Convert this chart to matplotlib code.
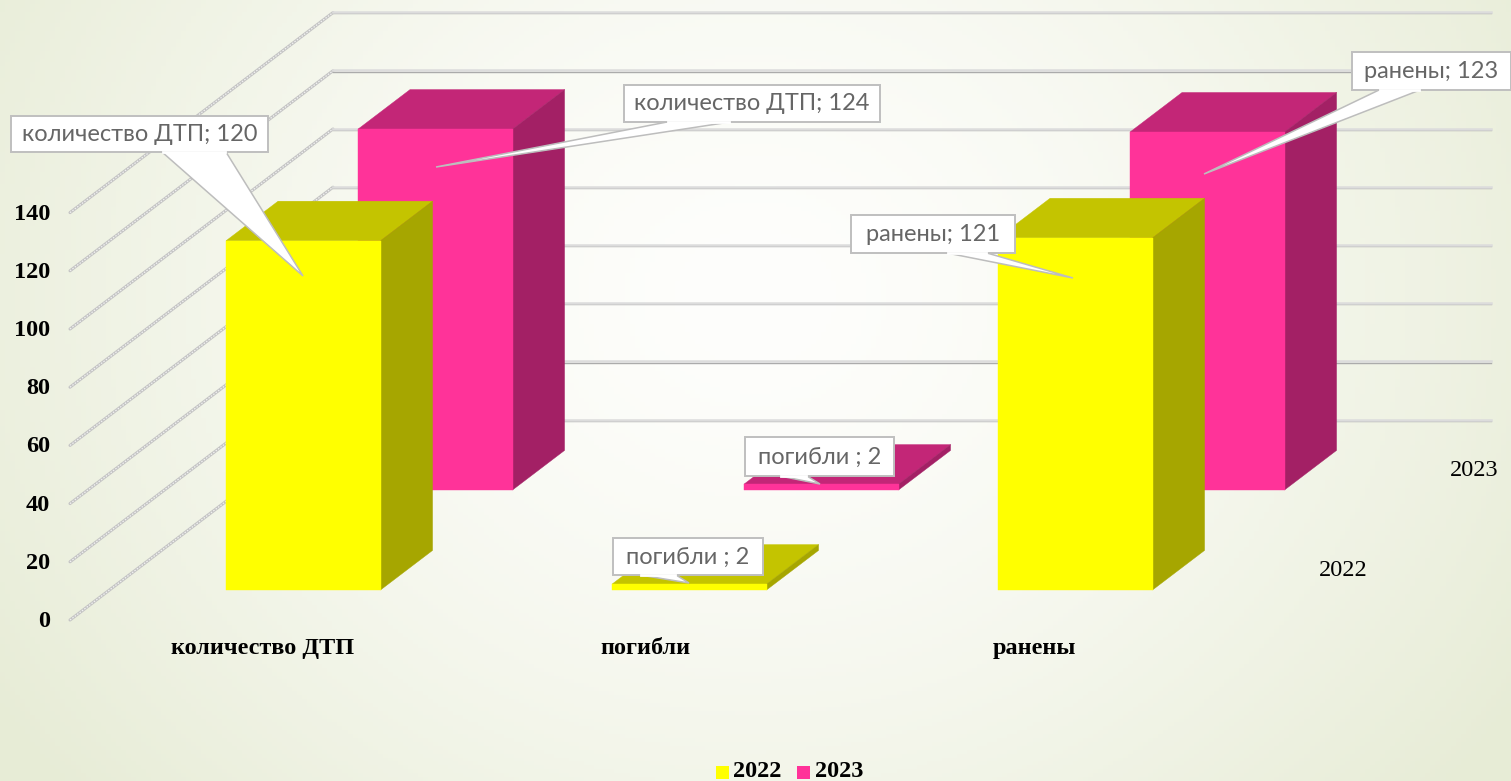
import matplotlib
matplotlib.use("Agg")
import matplotlib.pyplot as plt
from matplotlib.patches import Polygon, Rectangle
import numpy as np

categories = ["количество ДТП", "погибли", "ранены"]
series_names = ["2022", "2023"]
values_2022 = [120, 2, 121]
values_2023 = [124, 2, 123]
ticks = [0, 20, 40, 60, 80, 100, 120, 140]
callouts_2022 = ["количество ДТП; 120", "погибли ; 2", "ранены; 121"]
callouts_2023 = ["количество ДТП; 124", "погибли ; 2", "ранены; 123"]

W, H = 1511, 781
# 3d box of the chart in pixels
X0, Y0 = 70, 620
CAT_W = 386
BAR_W = 154.5
BAR_SHIFT = 0.8
PX_PER_UNIT = 2.91
DEPTH_X, DEPTH_Y = 263, -200
ROW_START = [0.15, 0.65]
ROW_DEPTH = 0.198

FACE = {"2022": ("#FFFF00", "#C4C400", "#A6A600"),
        "2023": ("#FF3399", "#C32677", "#A32065")}


def project(x, value, depth):
    return (X0 + x + DEPTH_X * depth, Y0 - value * PX_PER_UNIT + DEPTH_Y * depth)


def draw_bar(ax, cat, value, row, colors):
    left = cat * CAT_W + (CAT_W - BAR_W) / 2 + BAR_SHIFT + row * 0.5
    right = left + BAR_W
    d0 = ROW_START[row]
    d1 = d0 + ROW_DEPTH
    front, top, side = colors
    z = 3 - row
    ax.add_patch(Polygon([project(left, value, d0), project(right, value, d0),
                          project(right, value, d1), project(left, value, d1)],
                         fc=top, ec=top, lw=0.3, zorder=z))
    ax.add_patch(Polygon([project(right, 0, d0), project(right, 0, d1),
                          project(right, value, d1), project(right, value, d0)],
                         fc=side, ec=side, lw=0.3, zorder=z))
    ax.add_patch(Polygon([project(left, 0, d0), project(right, 0, d0),
                          project(right, value, d0), project(left, value, d0)],
                         fc=front, ec=front, lw=0.3, zorder=z))


def callout(ax, text, box, tail):
    # box is left, top, right, bottom, tail is base1, base2, tip x, tip y
    l, t, r, b = box
    b1, b2, tx, ty = tail
    ax.add_patch(Polygon([(b1, b), (tx, ty), (b2, b)], fc="white", ec="#BDBDBD", lw=1.1, zorder=6))
    ax.add_patch(Rectangle((l, t), r - l, b - t, fc="white", ec="#BFBFBF", lw=1.4, zorder=7))
    ax.plot([b1 + 1, b2 - 1], [b, b], color="white", lw=2, zorder=8)
    ax.text((l + r) / 2, (t + b) / 2 + 0.5, text, fontsize=17, family="Lato",
            color="#666666", ha="center", va="center", zorder=9)


fig = plt.figure(figsize=(W / 100, H / 100), dpi=100)
ax = fig.add_axes([0, 0, 1, 1])
ax.set_xlim(0, W)
ax.set_ylim(H, 0)
ax.axis("off")

# slide background, white in the middle going to pale green at the edges
yy, xx = np.mgrid[0:1:200j, 0:1:300j]
dist = np.clip(np.sqrt(((xx - 0.5) / 0.6) ** 2 + ((yy - 0.38) / 1.0) ** 2), 0, 1)
c_in = np.array([254, 254, 252]) / 255
c_out = np.array([231, 236, 214]) / 255
bg = c_in + (c_out - c_in) * dist[..., None] ** 1.5
ax.imshow(bg, extent=[0, W, H, 0], aspect="auto", zorder=0)

for t in ticks:
    x1, y1 = project(0, t, 0)
    x2, y2 = project(0, t, 1)
    x3, y3 = project(3 * CAT_W, t, 1)
    ax.plot([x1, x2], [y1, y2], color="#C4C4C4", lw=2.2, zorder=1, solid_capstyle="round")
    ax.plot([x1, x2], [y1, y2], color="#F2F2F2", lw=0.9, ls=(0, (1.2, 1.2)), zorder=1.1)
    ax.plot([x2, x3], [y2 + 0.8, y3 + 0.8], color="#ABABAB", lw=1, zorder=1)
    ax.plot([x2, x3], [y2 - 0.5, y3 - 0.5], color="#DCDCDC", lw=1.8, zorder=1.1)
    ax.text(50, y1 + 1.5, str(t), fontsize=17.5, family="Liberation Serif", weight="bold",
            ha="right", va="center", color="black", zorder=5)

for i in range(len(categories)):
    draw_bar(ax, i, values_2023[i], 1, FACE["2023"])
    draw_bar(ax, i, values_2022[i], 0, FACE["2022"])

cat_label_x = [263, 645, 1034]
for name, x in zip(categories, cat_label_x):
    ax.text(x, 648.5, name, fontsize=17.5, family="Liberation Serif", weight="bold",
            ha="center", va="center", color="black", zorder=5)

# series names along the depth axis
ax.text(1343, 570, series_names[0], fontsize=17.5, family="Liberation Serif", ha="center", va="center")
ax.text(1474, 470, series_names[1], fontsize=17.5, family="Liberation Serif", ha="center", va="center")

callout(ax, callouts_2022[0], (11, 116, 268, 152), (162, 226, 303, 276))
callout(ax, callouts_2023[0], (624, 85, 880, 122), (667, 730, 436, 167))
callout(ax, callouts_2022[1], (613, 538, 763, 575), (640, 676, 689, 583))
callout(ax, callouts_2023[1], (745, 437, 894, 476), (780, 807, 820, 484))
callout(ax, callouts_2022[2], (851, 215, 1015, 253), (947, 987, 1073, 278))
callout(ax, callouts_2023[2], (1352, 52, 1511, 90), (1379, 1420, 1204, 174))

# legend
ax.add_patch(Rectangle((716, 766), 13, 12.5, fc=FACE["2022"][0], ec="none"))
ax.text(733, 771.5, series_names[0], fontsize=17.5, family="Liberation Serif", weight="bold",
        ha="left", va="center")
ax.add_patch(Rectangle((797, 766), 13, 12.5, fc=FACE["2023"][0], ec="none"))
ax.text(815, 771.5, series_names[1], fontsize=17.5, family="Liberation Serif", weight="bold",
        ha="left", va="center")

fig.savefig("out.png", dpi=100)
